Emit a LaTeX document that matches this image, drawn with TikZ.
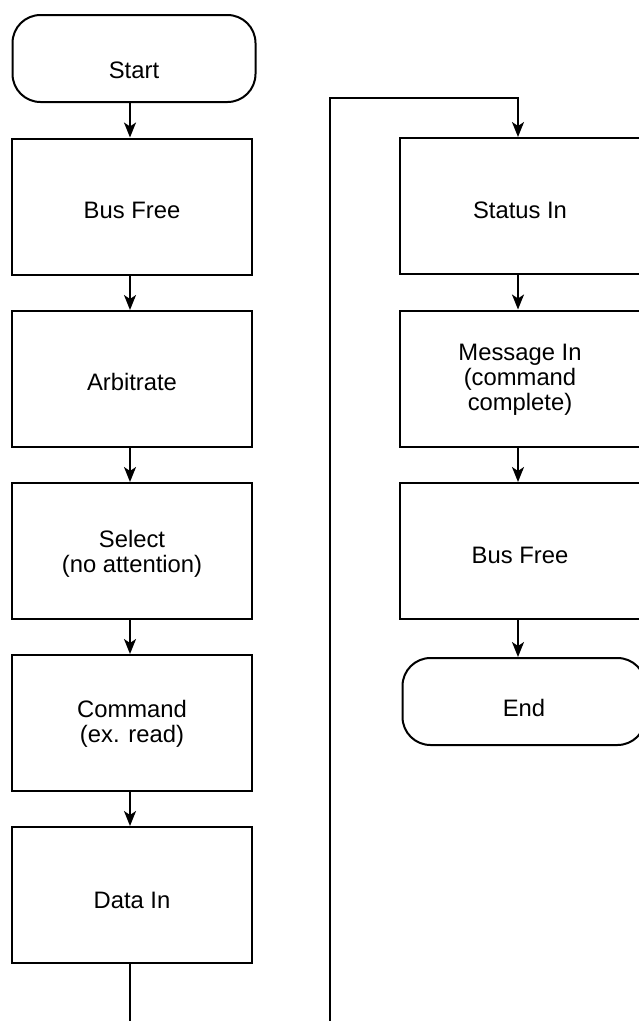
\documentclass[tikz,border=0pt]{standalone}
\usepackage{fontspec}
\setmainfont{Liberation Sans}
\usetikzlibrary{arrows.meta}
\newcommand\dn[2]{\raisebox{-#1}[\height][\depth]{#2}}
\newcommand\lines[1]{\begin{tabular}{@{}c@{}}#1\end{tabular}}
\begin{document}
\begin{tikzpicture}[x=1pt,y=-1pt,
  every node/.style={font=\fontsize{23.8}{25}\selectfont},
  proc/.style={draw, line width=2pt, rectangle, minimum width=240pt, minimum height=136pt, inner sep=0pt},
  term/.style={draw, line width=2pt, rounded corners=28pt, minimum width=243pt, minimum height=87pt, inner sep=0pt},
  flow/.style={line width=2pt, -{Stealth[length=15pt,width=12pt,inset=4pt]}}]
\useasboundingbox (0,0) rectangle (639,1021);
\clip (0,0) rectangle (639,1021);
% left column
\node[term] (start) at (134,58.5) {\dn{11.5pt}{Start}};
\node[proc] (bf1) at (132,206.5) {\dn{4pt}{Bus Free}};
\node[proc] (arb) at (132,379) {\dn{3pt}{Arbitrate}};
\node[proc] (sel) at (132,551) {\dn{3.5pt}{\lines{Select\\(no attention)}}};
\node[proc] (cmd) at (132,723) {\dn{1.5pt}{\lines{Command\\(ex. read)}}};
\node[proc] (din) at (132,895) {\dn{5pt}{Data In}};
% right column
\node[proc] (sin) at (520,206) {\dn{4pt}{Status In}};
\node[proc] (msg) at (520,378.5) {\dn{2pt}{\lines{Message In\\(command\\complete)}}};
\node[proc] (bf2) at (520,551) {\dn{4pt}{Bus Free}};
\node[term] (end) at (524,701.5) {\dn{6pt}{End}};
% connectors
\draw[flow] (start.south -| 130,0) -- (bf1.north -| 130,0);
\draw[flow] (bf1.south -| 130,0) -- (arb.north -| 130,0);
\draw[flow] (arb.south -| 130,0) -- (sel.north -| 130,0);
\draw[flow] (sel.south -| 130,0) -- (cmd.north -| 130,0);
\draw[flow] (cmd.south -| 130,0) -- (din.north -| 130,0);
\draw[flow] (din.south -| 130,0) -- (130,1040) -| (330,98) -| (sin.north -| 518,0);
\draw[flow] (sin.south -| 518,0) -- (msg.north -| 518,0);
\draw[flow] (msg.south -| 518,0) -- (bf2.north -| 518,0);
\draw[flow] (bf2.south -| 518,0) -- (end.north -| 518,0);
\end{tikzpicture}
\end{document}
